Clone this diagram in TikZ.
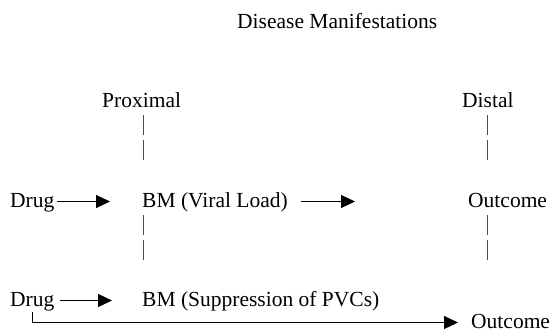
\documentclass[tikz,border=0pt]{standalone}
\usepackage{fontspec}
\setmainfont{Liberation Serif}
\usetikzlibrary{arrows.meta}
\begin{document}
\begin{tikzpicture}[x=1bp, y=-1bp,
  lbl/.style={inner sep=0pt, anchor=base west, text height=15bp, text depth=4bp,
    font=\fontsize{21.5bp}{26bp}\selectfont},
  link/.style={line width=1.1bp, -{Triangle[length=14bp, width=13bp]}},
  tick/.style={line width=0.8bp, draw=black!70, dash pattern=on 20bp off 5bp}]
  \useasboundingbox (0,0) rectangle (550,334);

  % heading
  \node[lbl] (title) at (237,28) {Disease Manifestations};

  % column headings
  \node[lbl] (prox) at (102,107) {Proximal};
  \node[lbl] (dist) at (462,107) {Distal};

  % first chain
  \node[lbl] (drugA) at (10,207) {Drug};
  \node[lbl] (bmA)   at (142,207) {BM (Viral Load)};
  \node[lbl] (outA)  at (468,207) {Outcome};

  % second chain
  \node[lbl] (drugB) at (10,306) {Drug};
  \node[lbl] (bmB)   at (142,306) {BM (Suppression of PVCs)};
  \node[lbl] (outB)  at (471,328) {Outcome};

  % column guides
  \coordinate (colP) at (143,0);
  \coordinate (colD) at (487.5,0);
  \coordinate (endD) at (487.5,260);
  \draw[tick] (colP |- prox.south) ++(0,4) -- ++(0,45);
  \draw[tick] (colP |- bmA.south) ++(0,4) -- ++(0,45);
  \draw[tick] (colD |- dist.south) ++(0,4) -- ++(0,45);
  \draw[tick] (colD |- outA.south) ++(0,4) -- (endD);

  % arrows
  \draw[link, shorten <=2bp, shorten >=32bp] (drugA) -- (drugA -| bmA.west);
  \draw[link, shorten <=13bp, shorten >=113bp] (bmA) -- (bmA -| outA.west);
  \draw[link, shorten <=5bp, shorten >=30bp] (drugB) -- (drugB -| bmB.west);
  \draw[link, shorten <=2bp, shorten >=13bp] (drugB.south) |- (outB.west);
\end{tikzpicture}
\end{document}
